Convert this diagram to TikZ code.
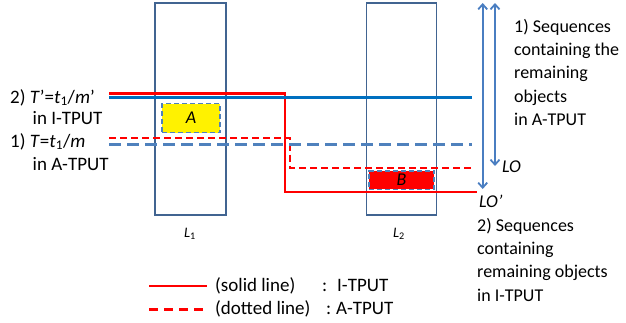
\documentclass[tikz,border=0pt]{standalone}
\usepackage{fontspec}
\setmainfont{Carlito}
\usetikzlibrary{arrows.meta}
\definecolor{boxc}{RGB}{65,100,145}
\definecolor{blues}{RGB}{0,112,192}
\definecolor{blued}{RGB}{79,129,189}
\definecolor{arrc}{RGB}{74,126,193}
\definecolor{redc}{RGB}{255,0,0}
\tikzset{
  lbox/.style={draw=boxc, line width=1.3pt, rectangle, inner sep=0pt},
  txt/.style={inner sep=0pt, anchor=base west, font=\fontsize{18}{23.3}\selectfont, align=left},
  ltxt/.style={inner sep=0pt, anchor=base west, font=\fontsize{19}{23}\selectfont},
  redsolid/.style={draw=redc, line width=2.4pt},
  reddash/.style={draw=redc, line width=2.4pt, dash pattern=on 7pt off 4pt},
  bluesolid/.style={draw=blues, line width=2.4pt},
  bluedash/.style={draw=blued, line width=2.4pt, dash pattern=on 12pt off 6pt},
  dblarrow/.style={draw=arrc, line width=1.8pt, {Straight Barb[length=5pt,width=9pt]}-{Straight Barb[length=5pt,width=9pt]}},
}
\begin{document}
\begin{tikzpicture}[x=1pt,y=-1pt]
\useasboundingbox (0,0) rectangle (626,322);
% boxes L1, L2
\node[lbox, minimum width=71pt, minimum height=212pt] (L1box) at (190.5,109) {};
\node[lbox, minimum width=70pt, minimum height=212pt] (L2box) at (401.3,109) {};
% box A and B
\node[draw=blued, fill=yellow, line width=1.5pt, dash pattern=on 5pt off 3pt, minimum width=58pt, minimum height=29pt, inner sep=0pt, font=\fontsize{18}{20}\selectfont\itshape] (A) at (191,118) {A};
\node[draw=blued, fill=redc, line width=1.5pt, dash pattern=on 5pt off 3pt, minimum width=65pt, minimum height=18.5pt, inner sep=0pt, font=\fontsize{18}{20}\selectfont\itshape] (B) at (401.5,180) {B};
% lines
\coordinate (rs0) at (109,93.3);
\coordinate (rs1) at (285,93.3);
\coordinate (rs2) at (285,191.7);
\coordinate (rs3) at (477,191.7);
\draw[redsolid] (rs0) -- (rs1) -- (rs2) -- (rs3);
\coordinate (bs0) at (109,97.6);
\coordinate (bs1) at (472,97.6);
\draw[bluesolid] (bs0) -- (bs1);
\coordinate (rd0) at (109,137.7);
\coordinate (rd1) at (290,137.7);
\coordinate (rd2) at (290,167.7);
\coordinate (rd3) at (472,167.7);
\draw[reddash] (rd0) -- (rd1) -- (rd2) -- (rd3);
\coordinate (bd0) at (109,144.3);
\coordinate (bd1) at (472,144.3);
\draw[bluedash] (bd0) -- (bd1);
% arrows
\coordinate (a1t) at (482.7,3);
\coordinate (a1b) at (482.7,189);
\coordinate (a2t) at (495,3);
\coordinate (a2b) at (495,166);
\draw[dblarrow] (a1t) -- (a1b);
\draw[dblarrow] (a2t) -- (a2b);
% labels (multi-line nodes: base = baseline of last line)
\node[txt] (t1) at (514,125.5) {1) Sequences\\containing the\\remaining\\objects\\in A-TPUT};
\node[txt, font=\fontsize{18}{20}\selectfont\itshape] (LO) at (502,172) {LO};
\node[txt, font=\fontsize{18}{20}\selectfont\itshape] (LOp) at (479,207) {LO’};
\node[txt] (t2) at (477,301) {2) Sequences\\containing\\remaining objects\\in I-TPUT};
\node[ltxt] (l2) at (10,103) {2) \textit{T}’=\textit{t}\textsubscript{1}/\textit{m}’};
\node[ltxt] (l2b) at (32.5,124) {in I-TPUT};
\node[ltxt] (l1) at (10,147.3) {1) \textit{T}=\textit{t}\textsubscript{1}/\textit{m}};
\node[ltxt] (l1b) at (32.5,170) {in A-TPUT};
\node[font=\fontsize{14.5}{16}\selectfont, inner sep=0pt] (L1) at (190,234) {\textit{L}\textsubscript{1}};
\node[font=\fontsize{14.5}{16}\selectfont, inner sep=0pt] (L2) at (399,234) {\textit{L}\textsubscript{2}};
% legend
\coordinate (g1a) at (149,286);
\coordinate (g1b) at (207,286);
\coordinate (g2a) at (149,309.3);
\coordinate (g2b) at (207,309.3);
\draw[redsolid] (g1a) -- (g1b);
\draw[redc, line width=2.4pt, dash pattern=on 9pt off 6pt] (g2a) -- (g2b);
\node[ltxt] (s1) at (215,291) {(solid line)};
\node[ltxt] (s1c) at (322,291) {:};
\node[ltxt] (s1t) at (337,291) {I-TPUT};
\node[ltxt] (s2) at (215,314.5) {(dotted line)};
\node[ltxt] (s2c) at (326,314.5) {:};
\node[ltxt] (s2t) at (336,314.5) {A-TPUT};
\end{tikzpicture}
\end{document}
